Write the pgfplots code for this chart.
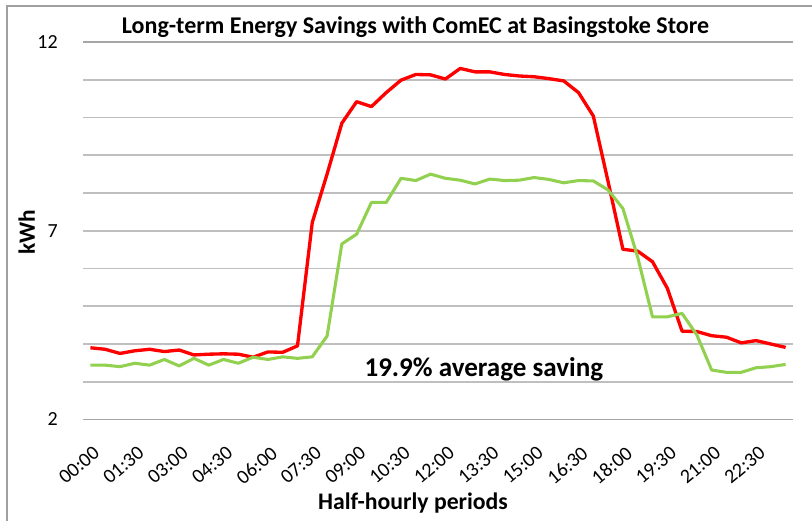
\documentclass[border=0pt]{standalone}
\usepackage{pgfplots}
\pgfplotsset{compat=1.18}
\usepackage{fontspec}
\setmainfont{Carlito}
\definecolor{redl}{HTML}{FF0000}
\definecolor{greenl}{HTML}{92D050}
\definecolor{gridc}{HTML}{BFBFBF}
\definecolor{gridd}{HTML}{A6A6A6}
\definecolor{borderc}{HTML}{A0A0A0}
\begin{document}
\begin{tikzpicture}
\useasboundingbox (0pt,0pt) rectangle (609pt,390pt);
\draw[color=borderc, line width=1.5pt] (5.25pt,-5pt) -- (5.25pt,385.5pt) -- (615pt,385.5pt);
\begin{axis}[
  at={(62.25pt,75.375pt)}, anchor=south west,
  scale only axis, width=532.5pt, height=283.1pt,
  xmin=-0.5, xmax=47.5, ymin=2, ymax=12,
  axis line style={draw=none},
  major tick length=0pt,
  ytick={3,4,5,6,7,8,9,10,11},
  yticklabels={,,,,7,,,,},
  extra y ticks={2,12},
  extra y tick labels={2,12},
  extra y tick style={grid style={color=gridd, line width=1.3pt}},
  ymajorgrids,
  grid style={color=gridc, line width=1.3pt},
  xtick={0,3,...,45},
  xticklabels={00:00,01:30,03:00,04:30,06:00,07:30,09:00,10:30,12:00,13:30,15:00,16:30,18:00,19:30,21:00,22:30},
  tick label style={font=\fontsize{15}{18}\selectfont},
  xticklabel style={yshift=-19pt, xshift=1.5pt, rotate=40, anchor=north east, inner sep=0pt},
  yticklabel style={anchor=east, inner sep=0pt, xshift=-18.75pt},
  clip=false,
]
\addplot[color=redl, line width=2.5pt, line join=round] coordinates {
(0,3.90)(1,3.86)(2,3.75)(3,3.82)(4,3.86)(5,3.80)(6,3.84)(7,3.71)(8,3.73)(9,3.74)
(10,3.73)(11,3.65)(12,3.79)(13,3.78)(14,3.95)(15,7.22)(16,8.50)(17,9.85)(18,10.42)(19,10.29)
(20,10.66)(21,10.99)(22,11.14)(23,11.13)(24,11.02)(25,11.30)(26,11.21)(27,11.21)(28,11.14)(29,11.10)
(30,11.08)(31,11.03)(32,10.97)(33,10.66)(34,10.04)(35,8.30)(36,6.51)(37,6.46)(38,6.18)(39,5.48)
(40,4.34)(41,4.33)(42,4.22)(43,4.18)(44,4.03)(45,4.09)(46,4.00)(47,3.91)};
\addplot[color=greenl, line width=2.3pt, line join=round] coordinates {
(0,3.44)(1,3.44)(2,3.40)(3,3.49)(4,3.44)(5,3.59)(6,3.42)(7,3.62)(8,3.44)(9,3.59)
(10,3.49)(11,3.65)(12,3.59)(13,3.66)(14,3.62)(15,3.66)(16,4.21)(17,6.65)(18,6.91)(19,7.75)
(20,7.75)(21,8.39)(22,8.33)(23,8.50)(24,8.39)(25,8.34)(26,8.24)(27,8.37)(28,8.33)(29,8.34)
(30,8.41)(31,8.36)(32,8.27)(33,8.33)(34,8.32)(35,8.08)(36,7.59)(37,6.30)(38,4.72)(39,4.72)
(40,4.81)(41,4.24)(42,3.31)(43,3.25)(44,3.25)(45,3.37)(46,3.40)(47,3.46)};
\node[font=\bfseries\fontsize{20.3}{24}\selectfont] at (axis cs:26.6,3.34) {19.9\% average saving};
\end{axis}
\node[font=\bfseries\fontsize{18}{21}\selectfont] at (311.6pt,369.75pt) {Long-term Energy Savings with ComEC at Basingstoke Store};
\node[font=\bfseries\fontsize{17.8}{21}\selectfont] at (309.75pt,12.75pt) {Half-hourly periods};
\node[font=\bfseries\fontsize{17.5}{21}\selectfont, rotate=90] at (20pt,216pt) {kWh};
\end{tikzpicture}
\end{document}
